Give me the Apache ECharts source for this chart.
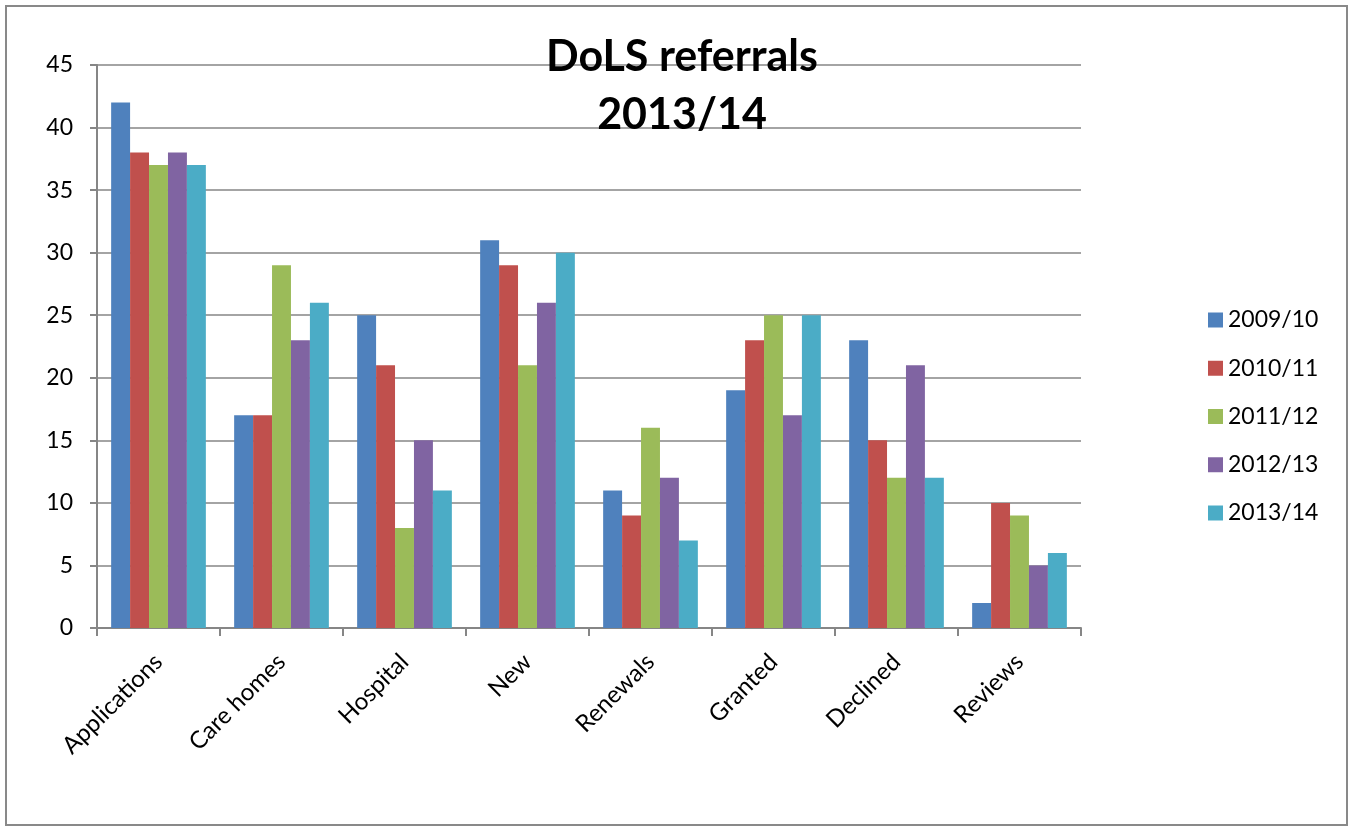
<!DOCTYPE html>
<html>
<head>
<meta charset="utf-8">
<script src="https://cdn.jsdelivr.net/npm/echarts@6/dist/echarts.min.js"></script>
<style>
  html, body { margin: 0; padding: 0; background: #fff; }
  #frame { position: absolute; left: 5px; top: 5px; width: 1339px; height: 817px; border: 2px solid #898989; }
  #chart { position: absolute; left: 0; top: 0; width: 1350px; height: 828px; }
</style>
</head>
<body>
<div id="frame"></div>
<div id="chart"></div>
<script>
const categories = ['Applications', 'Care homes', 'Hospital', 'New', 'Renewals', 'Granted', 'Declined', 'Reviews'];
const seriesNames = ['2009/10', '2010/11', '2011/12', '2012/13', '2013/14'];
const values2009 = [42, 17, 25, 31, 11, 19, 23, 2];
const values2010 = [38, 17, 21, 29, 9, 23, 15, 10];
const values2011 = [37, 29, 8, 21, 16, 25, 12, 9];
const values2012 = [38, 23, 15, 26, 12, 17, 21, 5];
const values2013 = [37, 26, 11, 30, 7, 25, 12, 6];
const colors = ['#4f81bd', '#c0504d', '#9bbb59', '#8064a2', '#4bacc6'];

const allValues = [values2009, values2010, values2011, values2012, values2013];
const font = 'Lato, "Open Sans", sans-serif';

const chart = echarts.init(document.getElementById('chart'));
chart.setOption({
  animation: false,
  color: colors,
  title: {
    text: 'DoLS referrals\n2013/14',
    left: 677,
    top: 23,
    textAlign: 'center',
    textStyle: { fontFamily: font, fontSize: 43, fontWeight: 'bold', color: '#000', lineHeight: 58 }
  },
  legend: {
    orient: 'vertical',
    left: 1203,
    top: 302,
    itemWidth: 15,
    itemHeight: 15,
    itemGap: 22.25,
    icon: 'rect',
    textStyle: { fontFamily: font, fontSize: 23, color: '#000', lineHeight: 26 },
    data: seriesNames
  },
  grid: { left: 97, right: 269, top: 65, bottom: 200, containLabel: false },
  xAxis: {
    type: 'category',
    data: categories,
    axisLine: { lineStyle: { color: '#868686', width: 2 } },
    axisTick: { show: true, length: 8, lineStyle: { color: '#868686', width: 2 } },
    axisLabel: { rotate: 45, fontFamily: font, fontSize: 24, color: '#000', margin: 30, interval: 0 }
  },
  yAxis: {
    type: 'value',
    min: 0,
    max: 45,
    interval: 5,
    axisLine: { show: true, lineStyle: { color: '#868686', width: 2 } },
    axisTick: { show: true, length: 7, lineStyle: { color: '#868686', width: 2 } },
    axisLabel: { fontFamily: font, fontSize: 23, color: '#000', margin: 24 },
    splitLine: { lineStyle: { color: '#868686', width: 1.5 } }
  },
  series: seriesNames.map((name, i) => ({
    name: name,
    type: 'bar',
    data: allValues[i],
    barGap: '0%',
    barCategoryGap: '23%'
  }))
});
</script>
</body>
</html>
